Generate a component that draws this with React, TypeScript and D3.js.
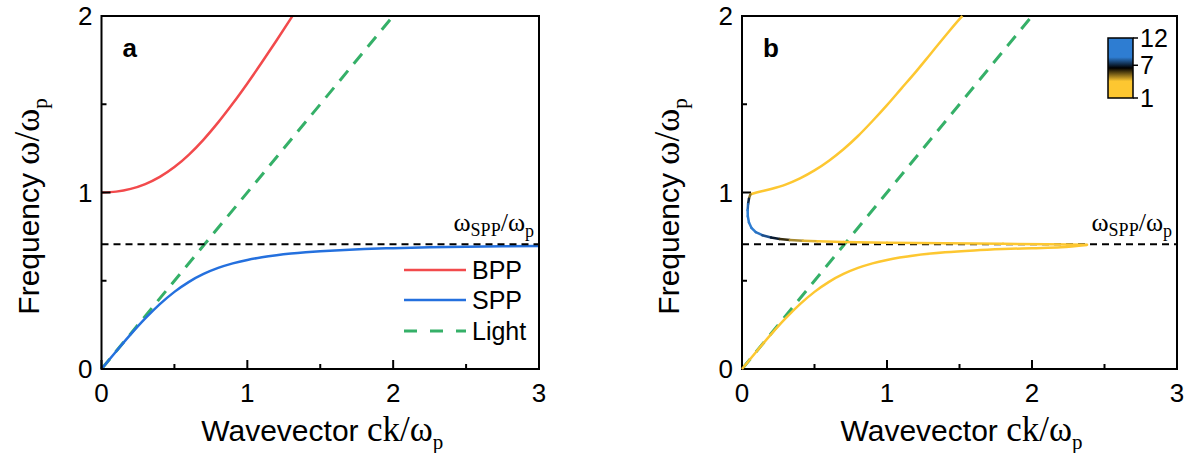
import React from 'react';
import * as d3 from 'd3';

// ---------- data ----------
const xTicks = [0, 1, 2, 3];
const xMinor = [0.5, 1.5, 2.5];
const yTicks = [0, 1, 2];
const yMinor = [0.5, 1.5];
const omegaSpp = 0.707;

// panel a
const sppK = [0, 0.1, 0.2, 0.3, 0.4, 0.5, 0.6, 0.7, 0.8, 0.9, 1.0, 1.1, 1.2, 1.3, 1.4, 1.5, 1.6, 1.8, 2.0, 2.25, 2.5, 2.75, 3.0];
const sppW = [0, 0.0995, 0.196, 0.2863, 0.3675, 0.437, 0.4939, 0.5385, 0.5726, 0.5984, 0.618, 0.6331, 0.6447, 0.6539, 0.6612, 0.6672, 0.672, 0.6795, 0.6847, 0.6895, 0.6928, 0.6953, 0.6972];
const bppK = [0, 0.1, 0.2, 0.3, 0.4, 0.5, 0.6, 0.7, 0.8, 0.9, 1.0, 1.1, 1.2, 1.3, 1.3093];
const bppW = [1, 1.005, 1.0206, 1.0479, 1.0886, 1.1441, 1.215, 1.3, 1.3972, 1.504, 1.618, 1.7376, 1.8613, 1.9881, 2.0];
const lightK = [0, 2];
const lightW = [0, 2];

// panel b
const bUpK = [0.058, 0.1, 0.2, 0.3, 0.4, 0.5, 0.6, 0.7, 0.8, 0.9, 1.0, 1.1, 1.2, 1.3, 1.4, 1.5, 1.52];
const bUpW = [0.99, 1.0, 1.02, 1.045, 1.08, 1.125, 1.18, 1.245, 1.32, 1.405, 1.495, 1.59, 1.685, 1.785, 1.885, 1.982, 2.0];
const bMidK = [0.058, 0.048, 0.042, 0.039, 0.04, 0.048, 0.065, 0.095, 0.14, 0.2, 0.26, 0.33, 0.42, 0.52, 0.7, 1.0, 1.4, 1.8, 2.1, 2.38];
const bMidW = [0.99, 0.965, 0.935, 0.9, 0.865, 0.83, 0.8, 0.775, 0.758, 0.745, 0.737, 0.731, 0.727, 0.724, 0.72, 0.716, 0.712, 0.709, 0.707, 0.704];
const bMidV = [2, 7, 10, 12, 12, 12, 12, 12, 11, 9, 7, 5, 3, 1, 1, 1, 1, 1, 1, 1];
const bLowK = [0, 0.1, 0.2, 0.3, 0.4, 0.5, 0.6, 0.7, 0.8, 0.9, 1.0, 1.2, 1.4, 1.6, 1.8, 2.0, 2.2, 2.38];
const bLowW = [0, 0.0995, 0.196, 0.2863, 0.3675, 0.437, 0.4939, 0.5385, 0.5726, 0.5984, 0.618, 0.6447, 0.6612, 0.672, 0.6795, 0.6847, 0.6895, 0.702];
const cbTicks = [1, 7, 12];

// ---------- style ----------
const RED = '#f24a4c';
const BLUE = '#2470de';
const GREEN = '#35b068';
const YELLOW = '#fdc731';
const CB_BLUE = '#2e7dd2';
const SANS = '"Liberation Sans", Arial, sans-serif';
const SERIF = '"Liberation Serif", "Times New Roman", serif';

const TOP = 16;
const BOTTOM = 369;

type Scales = { x: d3.ScaleLinear<number, number>; y: d3.ScaleLinear<number, number> };

function pathOf(s: Scales, ks: number[], ws: number[]) {
  const line = d3.line<number>().x((_, i) => s.x(ks[i])).y((_, i) => s.y(ws[i])).curve(d3.curveMonotoneX);
  return line(ks) || '';
}

function Axes({ s, letter }: { s: Scales; letter: string }) {
  const [x0, x1] = s.x.range();
  const [y0, y1] = s.y.range();
  const cx = (x0 + x1) / 2;
  return (
    <g>
      {xTicks.map((t) => (
        <g key={'xt' + t}>
          <line x1={s.x(t)} x2={s.x(t)} y1={y0} y2={y0 - 9} stroke="#000" strokeWidth={2} />
          <text x={s.x(t)} y={y0 + 33} fontFamily={SANS} fontSize={26} textAnchor="middle">{t}</text>
        </g>
      ))}
      {xMinor.map((t) => (
        <line key={'xm' + t} x1={s.x(t)} x2={s.x(t)} y1={y0} y2={y0 - 5} stroke="#000" strokeWidth={2} />
      ))}
      {yTicks.map((t) => (
        <g key={'yt' + t}>
          <line x1={x0} x2={x0 + 9} y1={s.y(t)} y2={s.y(t)} stroke="#000" strokeWidth={2} />
          <text x={x0 - 9} y={s.y(t) + 9} fontFamily={SANS} fontSize={26} textAnchor="end">{t}</text>
        </g>
      ))}
      {yMinor.map((t) => (
        <line key={'ym' + t} x1={x0} x2={x0 + 5} y1={s.y(t)} y2={s.y(t)} stroke="#000" strokeWidth={2} />
      ))}
      <rect x={x0} y={y1} width={x1 - x0} height={y0 - y1} fill="none" stroke="#000" strokeWidth={2} />
      <text x={x0 + 21} y={y1 + 41} fontFamily={SANS} fontSize={26} fontWeight="bold">{letter}</text>
      {/* x label */}
      <text x={cx + 2} y={441} textAnchor="middle" fontSize={30}>
        <tspan fontFamily={SANS}>Wavevector </tspan>
        <tspan fontFamily={SERIF} fontSize={35}>ck/ω</tspan>
        <tspan fontFamily={SERIF} fontSize={21} dy={8}>p</tspan>
      </text>
      {/* y label */}
      <text transform={`translate(${x0 - 63},${(y0 + y1) / 2 + 14}) rotate(-90)`} textAnchor="middle" fontSize={30}>
        <tspan fontFamily={SANS}>Frequency </tspan>
        <tspan fontFamily={SERIF} fontSize={35}>ω/ω</tspan>
        <tspan fontFamily={SERIF} fontSize={21} dy={8}>p</tspan>
      </text>
      {/* omega_spp dashed line and label */}
      <line x1={x0} x2={x1} y1={s.y(omegaSpp)} y2={s.y(omegaSpp)} stroke="#000" strokeWidth={2} strokeDasharray="7,5" />
      <text x={x1 - 5} y={s.y(omegaSpp) - 13} textAnchor="end" fontFamily={SERIF} fontSize={26}>
        <tspan>ω</tspan>
        <tspan fontSize={18} dy={5}>SPP</tspan>
        <tspan dy={-5}>/ω</tspan>
        <tspan fontSize={18} dy={6}>p</tspan>
      </text>
    </g>
  );
}

export default function App() {
  const sa: Scales = {
    x: d3.scaleLinear().domain([0, 3]).range([101.5, 539]),
    y: d3.scaleLinear().domain([0, 2]).range([BOTTOM, TOP]),
  };
  const sb: Scales = {
    x: d3.scaleLinear().domain([0, 3]).range([742, 1177]),
    y: d3.scaleLinear().domain([0, 2]).range([BOTTOM, TOP]),
  };
  const cmap = d3.scaleLinear<string>().domain([1, 4, 7, 10, 12]).range([YELLOW, '#a88a30', '#000000', '#1c4f8c', CB_BLUE]).clamp(true);

  const midSegs = bMidK.slice(0, -1).map((k, i) => ({
    x1: sb.x(k), y1: sb.y(bMidW[i]), x2: sb.x(bMidK[i + 1]), y2: sb.y(bMidW[i + 1]),
    c: cmap((bMidV[i] + bMidV[i + 1]) / 2),
  }));

  const cbX = 1108, cbW = 25, cbTop = 38, cbBot = 98;
  const cbScale = d3.scaleLinear().domain([1, 12]).range([cbBot, cbTop]);
  const legendY = [270, 300, 331];

  return (
    <svg width={1191} height={453} style={{ position: 'absolute', left: 0, top: 0, background: '#fff' }}>
      <defs>
        <linearGradient id="cbgrad" x1="0" y1="0" x2="0" y2="1">
          <stop offset="0%" stopColor={CB_BLUE} />
          <stop offset="32%" stopColor={CB_BLUE} />
          <stop offset="50%" stopColor="#000000" />
          <stop offset="72%" stopColor={YELLOW} />
          <stop offset="100%" stopColor={YELLOW} />
        </linearGradient>
      </defs>
      <rect x={0} y={0} width={1191} height={453} fill="#fff" />

      {/* Panel a */}
      <g>
        <path d={pathOf(sa, lightK, lightW)} fill="none" stroke={GREEN} strokeWidth={3} strokeDasharray="13,9" />
        <path d={pathOf(sa, bppK, bppW)} fill="none" stroke={RED} strokeWidth={2.5} />
        <path d={pathOf(sa, sppK, sppW)} fill="none" stroke={BLUE} strokeWidth={2.5} />
        <Axes s={sa} letter="a" />
        {[['BPP', RED, ''], ['SPP', BLUE, ''], ['Light', GREEN, '13,13']].map(([lab, col, dash], i) => (
          <g key={lab}>
            <line x1={404} x2={466} y1={legendY[i]} y2={legendY[i]} stroke={col} strokeWidth={dash ? 3 : 2.5} strokeDasharray={dash || undefined} />
            <text x={472} y={legendY[i] + 9} fontFamily={SANS} fontSize={25}>{lab}</text>
          </g>
        ))}
      </g>

      {/* Panel b */}
      <g>
        <path d={pathOf(sb, lightK, lightW)} fill="none" stroke={GREEN} strokeWidth={3} strokeDasharray="13,9" />
        <Axes s={sb} letter="b" />
        <path d={pathOf(sb, bUpK, bUpW)} fill="none" stroke={YELLOW} strokeWidth={2.5} />
        <path d={pathOf(sb, bLowK, bLowW)} fill="none" stroke={YELLOW} strokeWidth={2.5} />
        {midSegs.map((sg, i) => (
          <line key={i} x1={sg.x1} y1={sg.y1} x2={sg.x2} y2={sg.y2} stroke={sg.c} strokeWidth={2.5} strokeLinecap="round" />
        ))}
        {/* colorbar */}
        <rect x={cbX} y={cbTop} width={cbW} height={cbBot - cbTop} fill="url(#cbgrad)" stroke="#000" strokeWidth={1.5} />
        {cbTicks.map((t) => (
          <g key={t}>
            <line x1={cbX + cbW} x2={cbX + cbW + 5} y1={cbScale(t)} y2={cbScale(t)} stroke="#000" strokeWidth={1.5} />
            <text x={cbX + cbW + 7} y={cbScale(t) + 9} fontFamily={SANS} fontSize={25}>{t}</text>
          </g>
        ))}
      </g>
    </svg>
  );
}
